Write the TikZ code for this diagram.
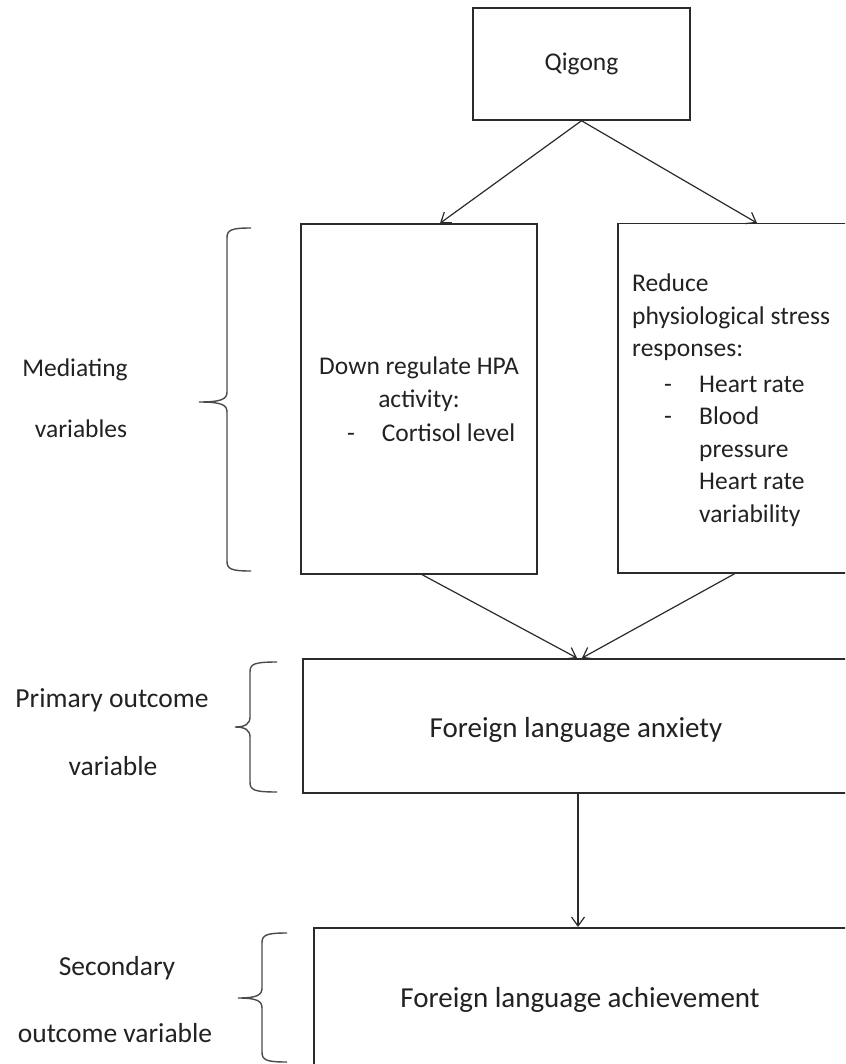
\documentclass[tikz,border=0pt]{standalone}
\usepackage{fontspec}
\setmainfont{Carlito}
\usetikzlibrary{arrows.meta}
\definecolor{ink}{HTML}{2B2B2B}
\definecolor{txt}{HTML}{222222}
\newcommand\mybrace[6]{%
  \draw[brc] (#1,#4) .. controls (#2+4,#4) and (#2,#4+2) .. (#2,#4+10) -- (#2,#5-10)
    .. controls (#2,#5-3) and (#2-5,#5) .. (#3,#5)
    .. controls (#2-5,#5) and (#2,#5+3) .. (#2,#5+10) -- (#2,#6-10)
    .. controls (#2,#6-2) and (#2+4,#6) .. (#1,#6);}
\begin{document}
\begin{tikzpicture}[x=1pt,y=-1pt,
  box/.style={draw=ink, line width=1.5pt, inner sep=0pt, rectangle},
  conn/.style={draw=ink, line width=1.2pt, -{Straight Barb[length=9pt,width=13pt,line width=1.2pt]}},
  brc/.style={draw=ink!85, line width=1.4pt},
  lbl/.style={text=txt, font=\fontsize{25.5pt}{33.5pt}\selectfont, inner sep=0pt},
  rlbl/.style={text=txt, font=\fontsize{25.5pt}{32.5pt}\selectfont, inner sep=0pt},
  big/.style={text=txt, font=\fontsize{29pt}{35pt}\selectfont, inner sep=0pt},
  side/.style={text=txt, font=\fontsize{27.5pt}{33pt}\selectfont, inner sep=0pt}]
\useasboundingbox (0,0) rectangle (845,1064);
\fill[white] (0,0) rectangle (845,1064);
\clip (0,0) rectangle (845,1064);

% boxes
\node[box, lbl, minimum width=217pt, minimum height=112pt] (Q) at (581.5,64) {Qigong};
\node[box, lbl, align=center, minimum width=236pt, minimum height=350pt] (L) at (419,399)
  {Down regulate HPA\\ activity:\\ \makebox[236pt][l]{\hspace{46pt}-\hspace{27pt}Cortisol level}};
\node[box, minimum width=300pt, minimum height=349pt, anchor=north west] (R) at (617,223) {};
\node[rlbl, align=left, anchor=north west] (Rt) at (632,274)
  {Reduce\\ physiological stress\\ responses:\\[3pt]
   \makebox[67pt][l]{\hspace{32pt}-}Heart rate\\
   \makebox[67pt][l]{\hspace{32pt}-}Blood\\
   \hspace*{67pt}pressure\\
   \hspace*{67pt}Heart rate\\
   \hspace*{67pt}variability};
\node[box, minimum width=600pt, minimum height=134pt, anchor=north west] (F) at (302,658) {};
\node[big] (Ft) at (576,730) {Foreign language anxiety};
\node[box, minimum width=600pt, minimum height=160pt, anchor=north west] (A) at (313,927) {};
\node[big] (At) at (580,1000) {Foreign language achievement};

% side labels
\node[lbl] (m1) at (75,370) {Mediating};
\node[lbl] (m2) at (81,429) {variables};
\node[side] (p1) at (112,700) {Primary outcome};
\node[side] (p2) at (113,766) {variable};
\node[side] (s1) at (117,968) {Secondary};
\node[side] (s2) at (115,1033) {outcome variable};

% braces
\mybrace{251}{227}{199}{228}{402}{571}
\mybrace{277}{250}{235}{662}{727}{792}
\mybrace{287}{262}{238}{933}{998}{1062}

% connectors
\draw[conn] (Q.south) -- ([xshift=21pt]L.north);
\draw[conn] (Q.south) -- ([xshift=140pt]R.north west);
\draw[conn] ([xshift=122pt]L.south west) -- ([xshift=275pt]F.north west);
\draw[conn] ([xshift=118pt]R.south west) -- ([xshift=280pt]F.north west);
\draw[conn] ([xshift=276pt]F.south west) -- ([xshift=265pt]A.north west);
\end{tikzpicture}
\end{document}
